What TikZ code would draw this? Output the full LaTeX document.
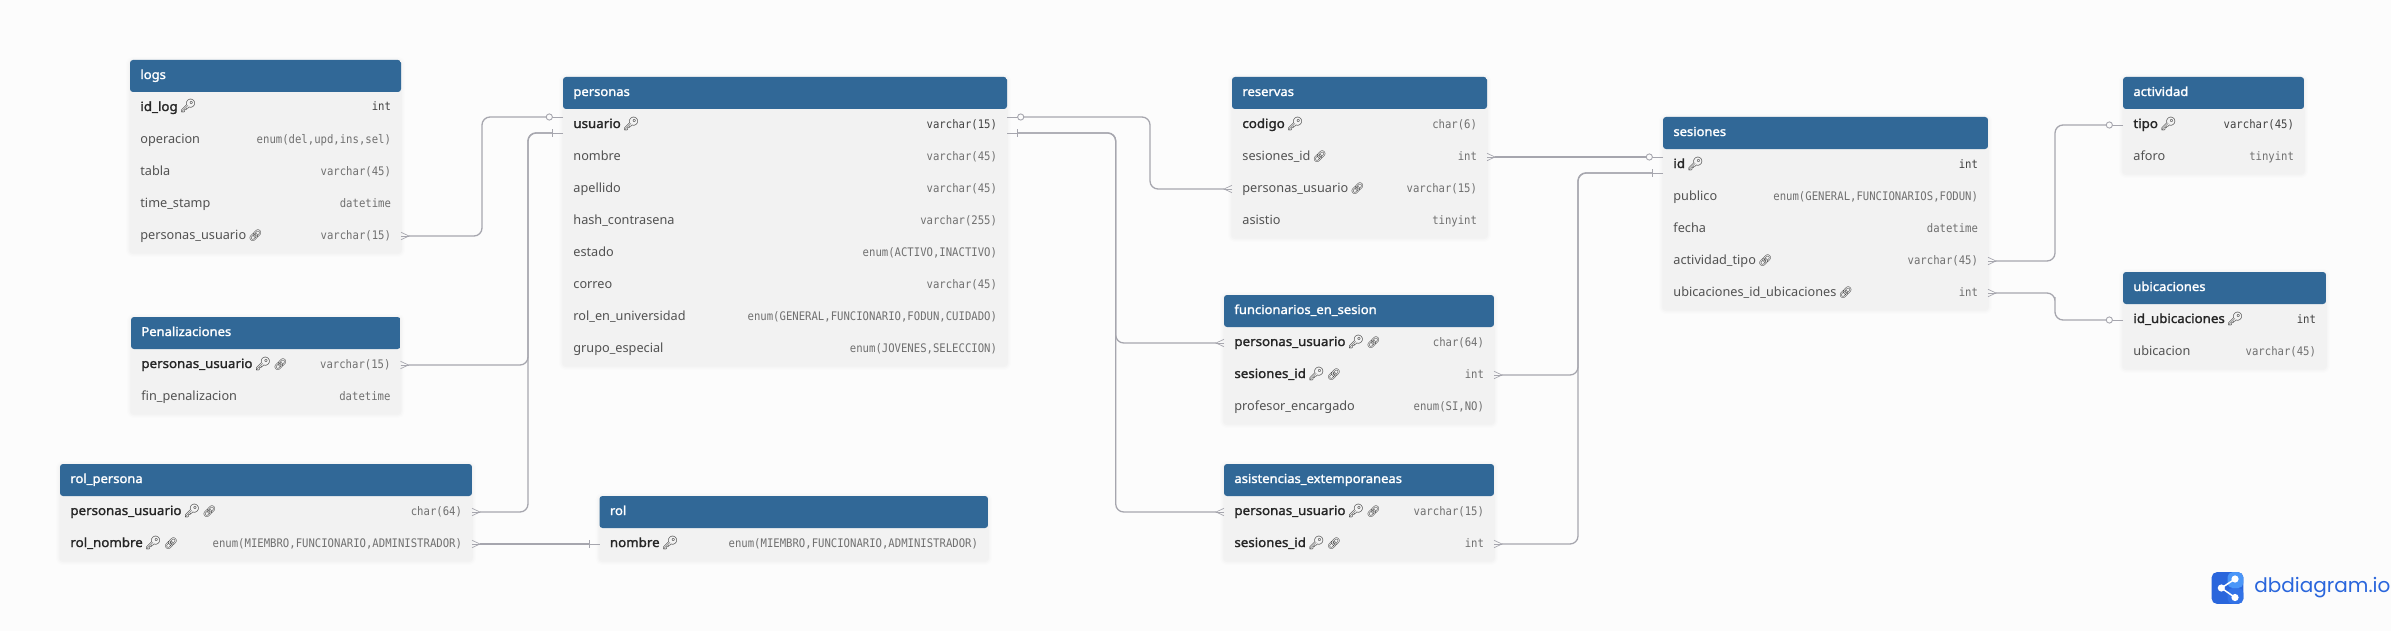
\documentclass[tikz,border=0pt]{standalone}
\usepackage{fontspec}
\setmainfont{Noto Sans}
\newfontfamily\boldfont[FakeBold=1.6,FakeStretch=1.05]{Noto Sans}
\newfontfamily\typefont[FakeStretch=0.9]{DejaVu Sans Mono}
\newfontfamily\emojifont{Noto Emoji}
\newfontfamily\logofont{Poppins}
\usepackage{xcolor}
\usetikzlibrary{calc,positioning}
\definecolor{pagebg}{HTML}{FCFCFC}
\definecolor{headblue}{HTML}{316897}
\definecolor{rowgray}{HTML}{F2F2F2}
\definecolor{linegray}{HTML}{A6A6AE}
\definecolor{logoblue}{HTML}{2A66DC}
\definecolor{logomid}{HTML}{3272E6}
\definecolor{logolite}{HTML}{4A96F8}
\def\px{0.5pt}
\newcommand{\keyic}{\,{\color{black!85}\emojifont\fontsize{6.6}{7}\selectfont 🔑}}
\newcommand{\linkic}{\,{\color{black!85}\emojifont\fontsize{5.6}{6}\selectfont 🔗}}
\newcommand{\field}[6][fld]{%
	\node[#1, below=0pt of #3.south west, anchor=north west] (#4) {#5};
	\node[#1t, anchor=east] (#4_t) at ([xshift=-10*\px]#2.east |- #4) {#6};}
\newcommand{\titlerow}[3]{%
	\node[titletxt] (#2) at ([xshift=10.4*\px]#1.north west) {#3};}
\tikzset{
	tbl/.style = {anchor=north west, fill=rowgray, rounded corners=1.5pt, inner sep=0, outer sep=0,
		preaction={draw=black, draw opacity=.008, line width=4pt, transform canvas={yshift=-.5pt}},
		preaction={draw=black, draw opacity=.012, line width=2.6pt, transform canvas={yshift=-.5pt}},
		preaction={draw=black, draw opacity=.016, line width=1.2pt, transform canvas={yshift=-.5pt}},
		path picture={\fill[headblue] (path picture bounding box.north west) rectangle ([yshift=-16pt]path picture bounding box.north east);}},
	rowtxt/.style = {inner sep=0, outer sep=0, minimum height=16pt, text height=4.5pt, text depth=1.5pt},
	titletxt/.style = {rowtxt, anchor=north west, text=white, font=\boldfont\fontsize{6.2}{7}\selectfont},
	fld/.style = {rowtxt, text=black!68, font=\fontsize{6.35}{7}\selectfont},
	pk/.style = {rowtxt, text=black!85, font=\boldfont\fontsize{6.35}{7}\selectfont},
	cpk/.style = {pk},
	fldt/.style = {rowtxt, text=black!56, font=\typefont\fontsize{5.9}{7}\selectfont},
	pkt/.style = {rowtxt, text=black!74, font=\typefont\fontsize{5.9}{7}\selectfont},
	cpkt/.style = {fldt},
	link/.style = {draw=linegray, line width=.65pt, rounded corners=4pt, shorten <=4pt},
	zeroend/.style = {shorten >=8.3pt},
	oneend/.style = {shorten >=5.1pt},
	mk/.style = {draw=linegray, line width=.35pt},
	crow/.pic = {\draw[mk] (0,-3.7) -- (8,0) -- (0,3.7); \draw[mk] (0,0) -- (8,0);},
	zero/.pic = {\draw[mk] (0,0) -- (10.6,0); \draw[mk, line width=.45pt, fill=pagebg] (13.7,0) circle (3.1);},
	one/.pic = {\draw[mk] (0,0) -- (10.3,0) (10.3,-4) -- (10.3,4);}
}
\begin{document}
\begin{tikzpicture}[x=0.5pt, y=-0.5pt]
	\path[use as bounding box, fill=pagebg] (0,0) rectangle (2391,631);

	\node[tbl, minimum width=271*\px, minimum height=192*\px] (logs) at (130,60) {};
	\titlerow{logs}{logs_h}{logs}
	\field[pk]{logs}{logs_h}{logs_id}{id\_log\keyic}{int}
	\field{logs}{logs_id}{logs_op}{operacion}{enum(del,upd,ins,sel)}
	\field{logs}{logs_op}{logs_tb}{tabla}{varchar(45)}
	\field{logs}{logs_tb}{logs_ts}{time\_stamp}{datetime}
	\field{logs}{logs_ts}{logs_pu}{personas\_usuario\linkic}{varchar(15)}

	\node[tbl, minimum width=269.5*\px, minimum height=96*\px] (pen) at (131,317) {};
	\titlerow{pen}{pen_h}{Penalizaciones}
	\field[cpk]{pen}{pen_h}{pen_pu}{personas\_usuario\keyic\linkic}{varchar(15)}
	\field{pen}{pen_pu}{pen_fp}{fin\_penalizacion}{datetime}

	\node[tbl, minimum width=412*\px, minimum height=96*\px] (rolp) at (60,464) {};
	\titlerow{rolp}{rolp_h}{rol\_persona}
	\field[cpk]{rolp}{rolp_h}{rolp_pu}{personas\_usuario\keyic\linkic}{char(64)}
	\field[cpk]{rolp}{rolp_pu}{rolp_nm}{rol\_nombre\keyic\linkic}{enum(MIEMBRO,FUNCIONARIO,ADMINISTRADOR)}

	\node[tbl, minimum width=388.5*\px, minimum height=64*\px] (rol) at (599.5,496) {};
	\titlerow{rol}{rol_h}{rol}
	\field[cpk]{rol}{rol_h}{rol_nm}{nombre\keyic}{enum(MIEMBRO,FUNCIONARIO,ADMINISTRADOR)}

	\node[tbl, minimum width=444*\px, minimum height=288*\px] (per) at (563,77) {};
	\titlerow{per}{per_h}{personas}
	\field[pk]{per}{per_h}{per_us}{usuario\keyic}{varchar(15)}
	\field{per}{per_us}{per_no}{nombre}{varchar(45)}
	\field{per}{per_no}{per_ap}{apellido}{varchar(45)}
	\field{per}{per_ap}{per_ha}{hash\_contrasena}{varchar(255)}
	\field{per}{per_ha}{per_es}{estado}{enum(ACTIVO,INACTIVO)}
	\field{per}{per_es}{per_co}{correo}{varchar(45)}
	\field{per}{per_co}{per_ro}{rol\_en\_universidad}{enum(GENERAL,FUNCIONARIO,FODUN,CUIDADO)}
	\field{per}{per_ro}{per_gr}{grupo\_especial}{enum(JOVENES,SELECCION)}

	\node[tbl, minimum width=255*\px, minimum height=160*\px] (res) at (1232,77) {};
	\titlerow{res}{res_h}{reservas}
	\field[cpk]{res}{res_h}{res_co}{codigo\keyic}{char(6)}
	\field{res}{res_co}{res_se}{sesiones\_id\linkic}{int}
	\field{res}{res_se}{res_pu}{personas\_usuario\linkic}{varchar(15)}
	\field{res}{res_pu}{res_as}{asistio}{tinyint}

	\node[tbl, minimum width=270*\px, minimum height=128*\px] (fun) at (1224,295) {};
	\titlerow{fun}{fun_h}{funcionarios\_en\_sesion}
	\field[cpk]{fun}{fun_h}{fun_pu}{personas\_usuario\keyic\linkic}{char(64)}
	\field[cpk]{fun}{fun_pu}{fun_se}{sesiones\_id\keyic\linkic}{int}
	\field{fun}{fun_se}{fun_pr}{profesor\_encargado}{enum(SI,NO)}

	\node[tbl, minimum width=270*\px, minimum height=96*\px] (asi) at (1224,464) {};
	\titlerow{asi}{asi_h}{asistencias\_extemporaneas}
	\field[cpk]{asi}{asi_h}{asi_pu}{personas\_usuario\keyic\linkic}{varchar(15)}
	\field[cpk]{asi}{asi_pu}{asi_se}{sesiones\_id\keyic\linkic}{int}

	\node[tbl, minimum width=325*\px, minimum height=192*\px] (ses) at (1663,117) {};
	\titlerow{ses}{ses_h}{sesiones}
	\field[pk]{ses}{ses_h}{ses_id}{id\keyic}{int}
	\field{ses}{ses_id}{ses_pu}{publico}{enum(GENERAL,FUNCIONARIOS,FODUN)}
	\field{ses}{ses_pu}{ses_fe}{fecha}{datetime}
	\field{ses}{ses_fe}{ses_ac}{actividad\_tipo\linkic}{varchar(45)}
	\field{ses}{ses_ac}{ses_ub}{ubicaciones\_id\_ubicaciones\linkic}{int}

	\node[tbl, minimum width=181*\px, minimum height=96*\px] (act) at (2123,77) {};
	\titlerow{act}{act_h}{actividad}
	\field[pk]{act}{act_h}{act_ti}{tipo\keyic}{varchar(45)}
	\field{act}{act_ti}{act_af}{aforo}{tinyint}

	\node[tbl, minimum width=203*\px, minimum height=96*\px] (ubi) at (2123,272) {};
	\titlerow{ubi}{ubi_h}{ubicaciones}
	\field[pk]{ubi}{ubi_h}{ubi_id}{id\_ubicaciones\keyic}{int}
	\field{ubi}{ubi_id}{ubi_ub}{ubicacion}{varchar(45)}

	\coordinate (per_w1) at ([yshift=8*\px]per.west |- per_us);
	\coordinate (per_w2) at ([yshift=-8*\px]per.west |- per_us);
	\coordinate (per_e1) at ([yshift=8*\px]per.east |- per_us);
	\coordinate (per_e2) at ([yshift=-8*\px]per.east |- per_us);
	\coordinate (ses_w1) at ([yshift=8*\px]ses.west |- ses_id);
	\coordinate (ses_w2) at ([yshift=-8*\px]ses.west |- ses_id);

	\draw[link, zeroend] (logs.east |- logs_pu) -| (482,200) |- (per_w1);
	\draw[link, oneend] (pen.east |- pen_pu) -| (528,300) |- (per_w2);
	\draw[link, oneend] (rolp.east |- rolp_pu) -| (528,300) |- (per_w2);
	\draw[link, oneend] (rolp.east |- rolp_nm) -- (rol.west |- rolp_nm);
	\draw[link, zeroend] (res.west |- res_pu) -| (1150,150) |- (per_e1);
	\draw[link, oneend] (fun.west |- fun_pu) -| (1115.7,250) |- (per_e2);
	\draw[link, oneend] (asi.west |- asi_pu) -| (1115.7,250) |- (per_e2);
	\draw[link, zeroend] (res.east |- res_se) -- (ses_w1);
	\draw[link, oneend] (fun.east |- fun_se) -| (1578,300) |- (ses_w2);
	\draw[link, oneend] (asi.east |- asi_se) -| (1578,300) |- (ses_w2);
	\draw[link, zeroend] (ses.east |- ses_ac) -| (2055,200) |- (act.west |- act_ti);
	\draw[link, zeroend] (ses.east |- ses_ub) -| (2055,305) |- (ubi.west |- ubi_id);

	\path (logs.east |- logs_pu) pic {crow};
	\path (pen.east |- pen_pu) pic {crow};
	\path (rolp.east |- rolp_pu) pic {crow};
	\path (rolp.east |- rolp_nm) pic {crow};
	\path (res.east |- res_se) pic {crow};
	\path (fun.east |- fun_se) pic {crow};
	\path (asi.east |- asi_se) pic {crow};
	\path (ses.east |- ses_ac) pic {crow};
	\path (ses.east |- ses_ub) pic {crow};
	\path (res.west |- res_pu) pic[xscale=-1] {crow};
	\path (fun.west |- fun_pu) pic[xscale=-1] {crow};
	\path (asi.west |- asi_pu) pic[xscale=-1] {crow};
	\path (per_w1) pic[xscale=-1] {zero};
	\path (per_e1) pic {zero};
	\path (ses_w1) pic[xscale=-1] {zero};
	\path (act.west |- act_ti) pic[xscale=-1] {zero};
	\path (ubi.west |- ubi_id) pic[xscale=-1] {zero};
	\path (per_w2) pic[xscale=-1] {one};
	\path (per_e2) pic {one};
	\path (ses_w2) pic[xscale=-1] {one};
	\path (rol.west |- rol_nm) pic[xscale=-1] {one};

	\node[fill=logoblue, rounded corners=2.5pt, minimum size=15.8pt, inner sep=0,
		path picture={
			\fill[logomid] (path picture bounding box.center) rectangle (path picture bounding box.south east);
			\fill[logolite] (path picture bounding box.center) rectangle (path picture bounding box.north east);}] (logo) at (2227.5,588) {};
	\coordinate (lg_a) at ([shift={(-6.2,0)}]logo.center);
	\coordinate (lg_b) at ([shift={(7.5,-9)}]logo.center);
	\coordinate (lg_c) at ([shift={(7.5,9.5)}]logo.center);
	\draw[white, line width=.75pt] (lg_b) -- (lg_a) -- (lg_c);
	\fill[white] (lg_a) circle (3.6) (lg_b) circle (3.6) (lg_c) circle (3.6);
	\node[anchor=west, inner sep=0, text=logoblue, font=\logofont\fontsize{10}{12}\selectfont] (logotxt) at (2254,588) {dbdiagram.io};
\end{tikzpicture}
\end{document}
